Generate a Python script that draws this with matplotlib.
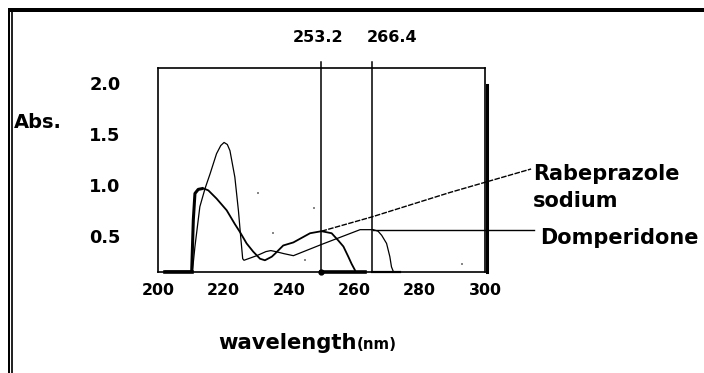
import matplotlib
matplotlib.use("Agg")
import matplotlib.pyplot as plt
from matplotlib.lines import Line2D

plt.rcParams['font.family'] = ['DejaVu Sans']
plt.rcParams['font.weight'] = 'bold'

# ---- data ----
x_ticks = [200, 220, 240, 260, 280, 300]
y_ticks = [0.5, 1.0, 1.5, 2.0]
y_tick_labels = ["0.5", "1.0", "1.5", "2.0"]

# thick curve (peak ~0.97 at 214 nm, dip ~233 nm, second max at ~250 nm)
thick_x = [202.0, 210.3, 210.8, 211.3, 212.3, 213.9, 215.4, 217.9, 221.0, 223.5, 225.1,
           227.1, 229.1, 231.2, 232.7, 234.8, 235.8, 238.3, 241.4, 246.5, 250.0,
           253.1, 255.1, 256.7, 258.2, 259.2, 260.2, 260.4]
thick_y = [0.15, 0.15, 0.66, 0.92, 0.96, 0.97, 0.95, 0.87, 0.755, 0.62, 0.54,
           0.43, 0.35, 0.28, 0.265, 0.30, 0.33, 0.41, 0.44, 0.53, 0.55,
           0.53, 0.46, 0.40, 0.30, 0.23, 0.17, 0.15]

# tall thin curve (peak ~1.42 at 220 nm), continues into the second band
tall_x = [210.5, 211.3, 212.8, 214.4, 215.9, 217.9, 219.2, 220.2, 221.2, 222.0, 223.5,
          224.6, 225.3, 225.9, 226.3, 230.2, 233.0, 234.5, 236.0, 238.5, 241.4, 250.0,
          261.8, 265.8, 267.3, 268.4, 269.9, 270.9, 271.4, 271.9]
tall_y = [0.15, 0.40, 0.79, 0.97, 1.11, 1.31, 1.39, 1.42, 1.40, 1.34, 1.08,
          0.75, 0.49, 0.28, 0.265, 0.31, 0.35, 0.36, 0.35, 0.33, 0.31, 0.42,
          0.565, 0.565, 0.55, 0.51, 0.43, 0.30, 0.20, 0.16]

# baseline pieces
base_thick_x = [[202.0, 210.3], [249.8, 263.3]]
base_thin_x = [[265.4, 274.0]]
base_y = 0.15

# marker lines
peak_x = [249.8, 265.4]
peak_labels = ["253.2", "266.4"]

# leader lines to the labels
rabe_leader_x = [250.0, 265.4, 289.3, 314.1]
rabe_leader_y = [0.55, 0.69, 0.93, 1.16]
domp_leader_x = [265.8, 315.0]
domp_leader_y = [0.565, 0.565]

# stray specks
speck_x = [230.6, 247.7, 235.2, 245.0, 293.0]
speck_y = [0.92, 0.78, 0.53, 0.27, 0.23]

W, H = 704, 373
fig = plt.figure(figsize=(W / 100, H / 100), dpi=100)
ax = fig.add_axes([158 / W, 1 - 272 / H, 327 / W, 204 / H])
ax.set_xlim(200, 300)
ax.set_ylim(0.15, 2.15)

for sp in ax.spines.values():
    sp.set_linewidth(1.2)

ax.set_xticks(x_ticks)
ax.set_xticklabels([str(v) for v in x_ticks], fontsize=11.3, fontweight='bold')
ax.set_yticks(y_ticks)
ax.set_yticklabels(y_tick_labels, fontsize=12.8, fontweight='bold')
ax.tick_params(axis='x', length=0, pad=8)
ax.tick_params(axis='y', length=0, pad=27)

# curves
ax.plot(thick_x[:6], thick_y[:6], color='black', lw=2.2, solid_capstyle='butt')
ax.plot(thick_x[5:], thick_y[5:], color='black', lw=1.3, solid_joinstyle='round')
ax.plot(tall_x, tall_y, color='black', lw=0.9, solid_joinstyle='round')

for seg in base_thick_x:
    ax.plot(seg, [base_y, base_y], color='black', lw=2.6, clip_on=False)
for seg in base_thin_x:
    ax.plot(seg, [base_y, base_y], color='black', lw=1.6, clip_on=False)
ax.plot([peak_x[0]], [base_y], 'o', color='black', ms=3.5, clip_on=False)

# vertical marker lines extending above the box
for px in peak_x:
    ax.plot([px, px], [base_y, 2.21], color='black', lw=1.1, clip_on=False)

# right thick edge
ax.plot([300.6, 300.6], [base_y, 1.98], color='black', lw=2.2, clip_on=False)

# leaders
ax.plot(rabe_leader_x, rabe_leader_y, color='black', lw=1.0, ls=(0, (4, 1)), clip_on=False)
ax.plot(domp_leader_x, domp_leader_y, color='black', lw=1.0, clip_on=False)

ax.scatter(speck_x, speck_y, s=2, marker='s', color='#888888', linewidths=0)

# texts (figure pixel positions)
def ftext(px, py, s, **kw):
    fig.text(px / W, 1 - py / H, s, fontweight='bold', **kw)

ftext(318, 41.7, peak_labels[0], fontsize=11.5, ha='center', va='baseline')
ftext(392, 41.7, peak_labels[1], fontsize=11.5, ha='center', va='baseline')
ftext(14, 123, "Abs.", fontsize=14, ha='left', va='center')
ftext(218, 349, "wavelength", fontsize=15.2, ha='left', va='baseline')
ftext(357, 349, "(nm)", fontsize=10.8, ha='left', va='baseline')
ftext(533, 180, "Rabeprazole", fontsize=15, ha='left', va='baseline')
ftext(533, 206.7, "sodium", fontsize=15, ha='left', va='baseline')
ftext(540, 244, "Domperidone", fontsize=15, ha='left', va='baseline')

# outer frame
def fline(x0, y0, x1, y1, lwpx):
    fig.add_artist(Line2D([x0 / W, x1 / W], [1 - y0 / H, 1 - y1 / H],
                          transform=fig.transFigure, color='black',
                          lw=lwpx * 0.72, solid_capstyle='butt'))

fline(8, 10, W, 10, 4)
fline(9, 8, 9, H, 2)
fline(12, 8, 12, H, 1.7)

fig.savefig("out.png", dpi=100)
